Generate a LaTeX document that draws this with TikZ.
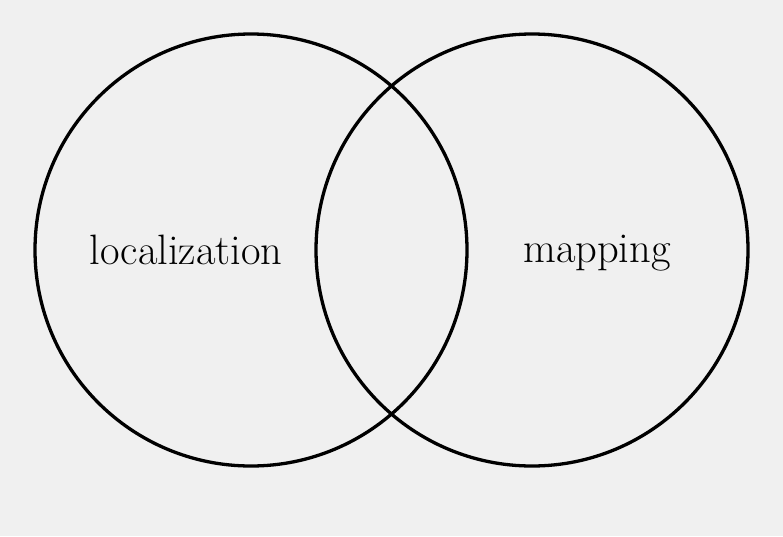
\documentclass[tikz,border=0pt]{standalone}
\definecolor{bg}{HTML}{F0F0F0}
\begin{document}
\begin{tikzpicture}[x=1pt,y=-1pt,
  ring/.style={draw=black,line width=3.3pt},
  lbl/.style={font=\fontsize{42.5}{50}\selectfont,inner sep=0pt}]
\fill[bg] (0,0) rectangle (783,536);
\useasboundingbox (0,0) rectangle (783,536);
\node[ring,circle,minimum size=432pt,inner sep=0pt] (L) at (251,250) {};
\node[ring,circle,minimum size=432pt,inner sep=0pt] (R) at (532,250) {};
\node[lbl,anchor=base] (loc) at (186,264) {localization};
\node[lbl,anchor=base] (map) at (597,262) {mapping};
\end{tikzpicture}
\end{document}
